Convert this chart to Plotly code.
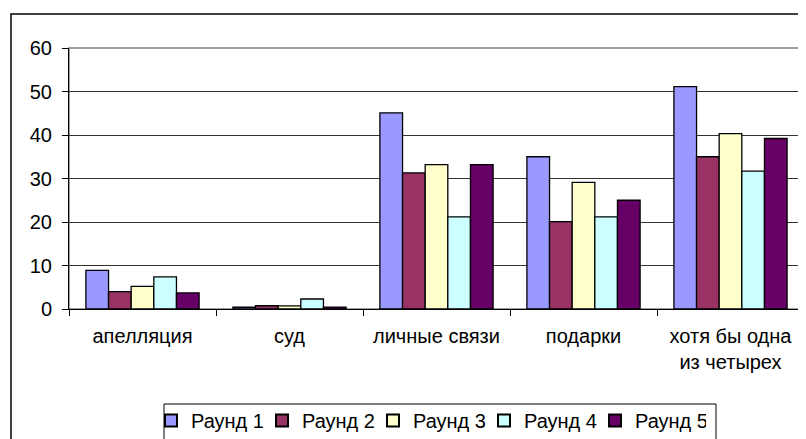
import plotly.graph_objects as go

categories = ["апелляция", "суд", "личные связи", "подарки", "хотя бы одна<br>из четырех"]
series_names = ["Раунд 1", "Раунд 2", "Раунд 3", "Раунд 4", "Раунд 5"]

round1 = [8.9, 0.4, 45.1, 35.0, 51.1]
round2 = [4.0, 0.75, 31.3, 20.1, 35.0]
round3 = [5.2, 0.7, 33.2, 29.1, 40.3]
round4 = [7.4, 2.3, 21.2, 21.2, 31.7]
round5 = [3.7, 0.45, 33.2, 25.0, 39.2]

colors = ["#9999FF", "#993366", "#FFFFCC", "#CCFFFF", "#660066"]

# page body adds an 8px offset, so layout is planned in screen pixels
OFF = 8
W, H = 806, 439
left, top, right, bottom = 69, 48, 804, 309  # plot area on screen
L, T = left - OFF, top - OFF
R, B = W - (right - OFF), H - (bottom - OFF)
pw, ph = right - left, bottom - top


def px_x(x):
    return (x - left) / pw


def px_y(y):
    return (bottom - y) / ph


fig = go.Figure()
for name, vals, c in zip(series_names, [round1, round2, round3, round4, round5], colors):
    fig.add_trace(go.Bar(
        x=categories, y=vals, name=name,
        marker=dict(color=c, line=dict(color="#000000", width=1.3)),
    ))

fig.update_layout(
    width=W, height=H,
    margin=dict(l=L, r=R, t=T, b=B, autoexpand=False),
    paper_bgcolor="white", plot_bgcolor="white",
    font=dict(family="Liberation Sans, Arial", size=20, color="#000000"),
    barmode="group", bargap=0.23, bargroupgap=0,
    showlegend=True,
    legend=dict(
        orientation="h", x=px_x(151), y=px_y(401), xanchor="left", yanchor="top",
        borderwidth=0, bgcolor="rgba(0,0,0,0)",
        font=dict(size=20), itemsizing="constant",
        entrywidth=66, entrywidthmode="pixels",
        tracegroupgap=0,
    ),
    shapes=[
        # chart area border (left and top visible)
        dict(type="rect", xref="paper", yref="paper",
             x0=px_x(11), y0=px_y(500), x1=px_x(830), y1=px_y(14),
             line=dict(color="#000000", width=1.5), layer="below"),
        # plot area border
        dict(type="rect", xref="paper", yref="paper",
             x0=0, y0=0, x1=px_x(805), y1=1,
             line=dict(color="#808080", width=1.5), layer="below"),
        # legend box
        dict(type="rect", xref="paper", yref="paper",
             x0=px_x(164), y0=px_y(460), x1=px_x(716), y1=px_y(404),
             line=dict(color="#000000", width=1), layer="below"),
    ],
)

fig.update_yaxes(
    range=[0, 60], dtick=10, showgrid=True, gridcolor="#333333", gridwidth=1,
    showline=True, linecolor="#000000", linewidth=1,
    ticks="outside", ticklen=6, tickcolor="#000000", zeroline=False,
    tickfont=dict(size=20), ticklabelstandoff=6, automargin=False,
)
fig.update_xaxes(
    showgrid=False, showline=True, linecolor="#000000", linewidth=1,
    ticks="outside", ticklen=6, tickcolor="#000000", tickson="boundaries",
    tickfont=dict(size=20), ticklabelstandoff=9, automargin=False,
)

fig.write_html("out.html")
